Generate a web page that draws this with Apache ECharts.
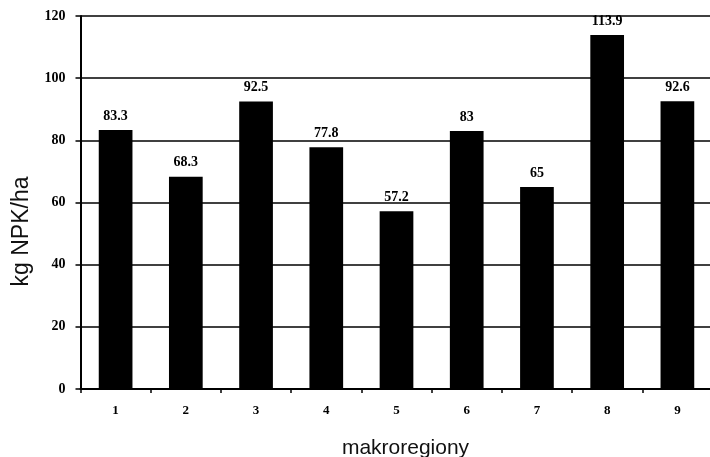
<!DOCTYPE html>
<html>
<head>
<meta charset="utf-8">
<script src="https://cdn.jsdelivr.net/npm/echarts@6/dist/echarts.min.js"></script>
<style>
  html, body { margin: 0; padding: 0; background: #fff; }
  #chart { width: 710px; height: 457px; }
</style>
</head>
<body>
<div id="chart"></div>
<script>
// Fertiliser use per macro-region
const regions = ['1', '2', '3', '4', '5', '6', '7', '8', '9'];
const npkPerHa = [83.3, 68.3, 92.5, 77.8, 57.2, 83, 65, 113.9, 92.6];
const yTicks = { min: 0, max: 120, interval: 20 };

const chart = echarts.init(document.getElementById('chart'));
chart.setOption({
  animation: false,
  backgroundColor: '#fff',
  grid: { left: 80.5, right: -2.5, top: 16, bottom: 68, outerBoundsMode: 'none' },
  xAxis: {
    type: 'category',
    data: regions,
    name: 'makroregiony',
    nameLocation: 'middle',
    nameGap: 49,
    nameTextStyle: { fontFamily: 'Liberation Sans', fontSize: 21, color: '#111', padding: [0, 0, 0, 18] },
    axisLine: { show: true, lineStyle: { color: '#000', width: 2 } },
    axisTick: { show: true, inside: false, length: 4, lineStyle: { color: '#000', width: 1.5 } },
    axisLabel: { fontFamily: 'Liberation Serif', fontWeight: 'bold', fontSize: 13, color: '#000', margin: 15 }
  },
  yAxis: {
    type: 'value',
    min: yTicks.min,
    max: yTicks.max,
    interval: yTicks.interval,
    name: 'kg NPK/ha',
    nameLocation: 'middle',
    nameRotate: 90,
    nameGap: 46,
    nameTextStyle: { fontFamily: 'Liberation Sans', fontSize: 23, color: '#111', padding: [0, 58, 0, 0] },
    axisLine: { show: true, lineStyle: { color: '#000', width: 2 } },
    axisTick: { show: true, length: 5, lineStyle: { color: '#000', width: 1.5 } },
    axisLabel: { fontFamily: 'Liberation Serif', fontWeight: 'bold', fontSize: 14, color: '#000', margin: 15 },
    splitLine: { show: true, lineStyle: { color: '#000', width: 1.5 } }
  },
  series: [{
    type: 'bar',
    data: npkPerHa,
    barWidth: '48%',
    itemStyle: { color: '#000' },
    label: {
      show: true,
      position: 'top',
      distance: 7,
      fontFamily: 'Liberation Serif',
      fontWeight: 'bold',
      fontSize: 14,
      color: '#000'
    }
  }]
});
</script>
</body>
</html>
